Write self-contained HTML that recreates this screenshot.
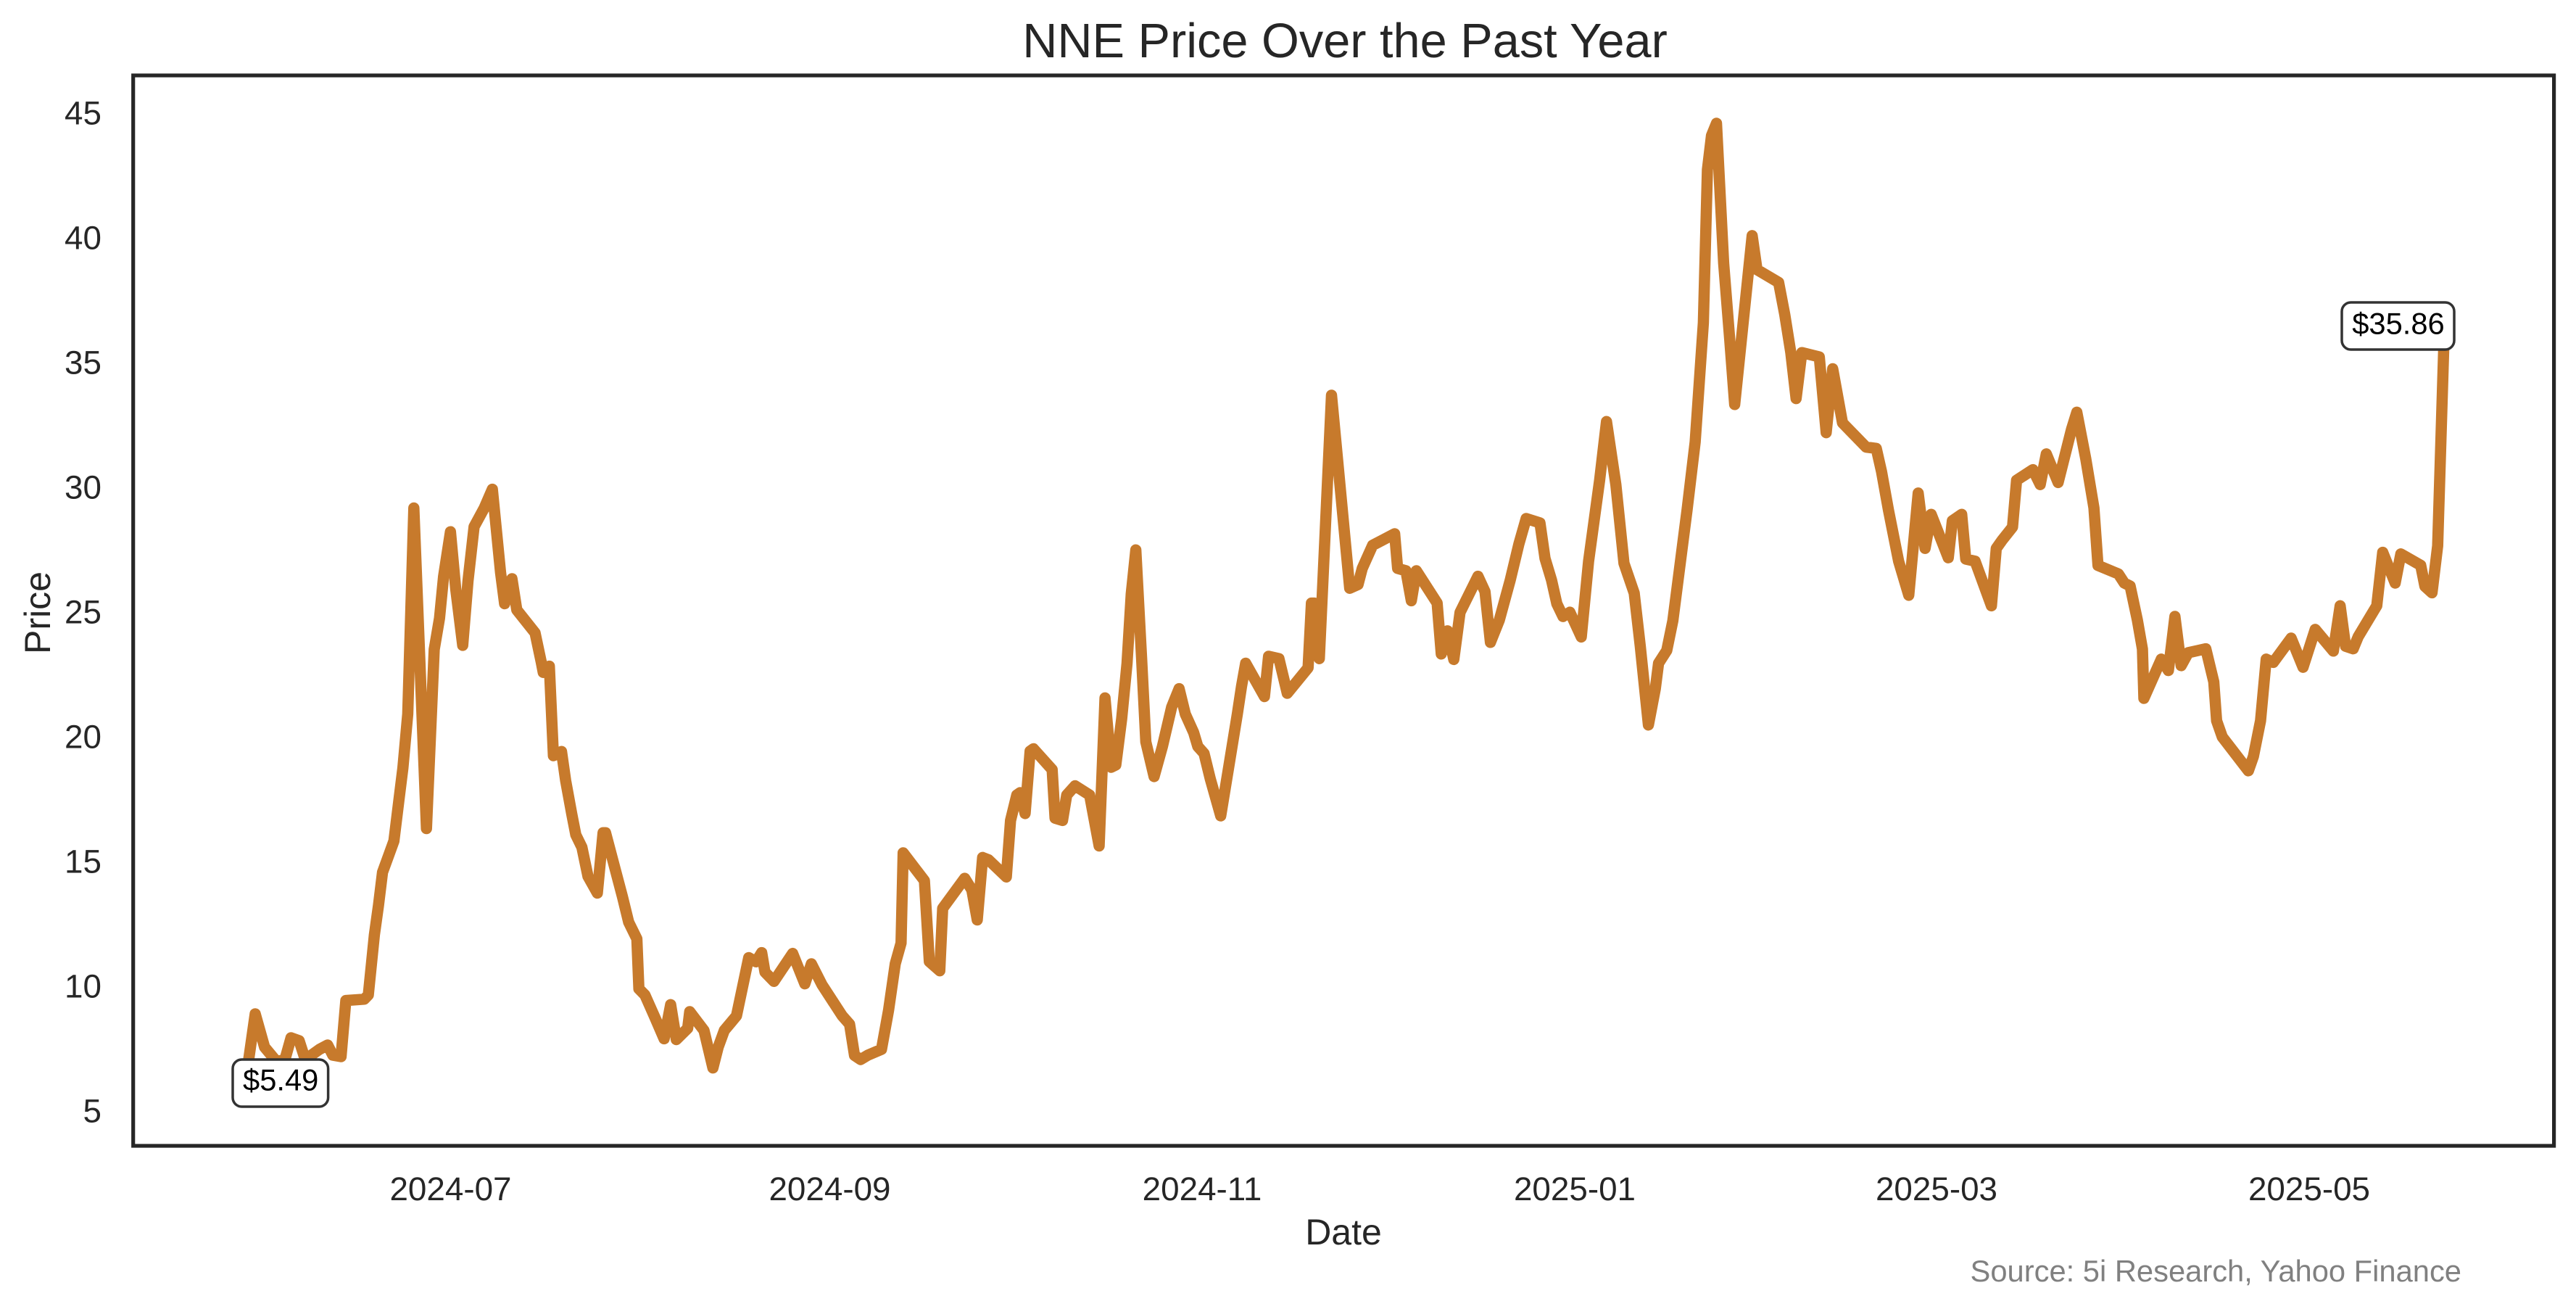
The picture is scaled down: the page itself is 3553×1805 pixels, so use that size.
<!DOCTYPE html>
<html>
<head>
<meta charset="utf-8">
<style>
  html, body { margin: 0; padding: 0; background: #ffffff; }
  svg { display: block; }
  text { font-family: "Liberation Sans", Arial, sans-serif; }
</style>
</head>
<body>
<svg width="3553" height="1805" viewBox="0 0 3553 1805" xmlns="http://www.w3.org/2000/svg">
  <rect x="0" y="0" width="3553" height="1805" fill="#ffffff"/>

  <!-- Title -->
  <text x="1855" y="79" font-size="66.7" fill="#262626" text-anchor="middle">NNE Price Over the Past Year</text>

  <!-- Price line -->
  <polyline fill="none" stroke="#C77A2C" stroke-width="15.5" stroke-linejoin="round" stroke-linecap="square"
    points="
335.5,1514 352,1398 364.9,1443.9 381.7,1464 393,1461 401.4,1431 412.6,1435 421,1461 440.6,1447 451.9,1441 459,1455 470.4,1457 477,1379.6 502.4,1377.8 508,1372
516.4,1288.9 522,1248.7 527.6,1202.8 536,1179.8 543.3,1159.7 550,1105 555.7,1059 562.4,984.6 570.8,700.5 588.2,1142.5 598.9,895.6 606.2,852.6 611.8,795 621.3,733.2
628.6,812.4 638.2,889.9 645.5,801 653.9,726.3 667.9,700.5 679.1,674.6 690.4,789.4 696,832.5 706.1,798 712.8,841 738,872.7 746.5,912.9 749.3,927.2 757.7,918.6
763.3,1042 774.5,1036.3 780.2,1076.5 788.6,1122.4 794.2,1151.1 802.6,1168.3 811,1208.5 823.9,1231.5 831.8,1148.2 835.2,1148.2 858.7,1237.2 867.1,1271.6 878.4,1294.6
881.2,1363.5 889.6,1372.1 903.6,1403.7 916,1432.4 925,1385.3 932.8,1433.5 948.5,1418 951.3,1395 971,1420.9 983.3,1472.6 990.6,1443.9 999,1420.9 1015.8,1400.8
1032.7,1320.5 1042.8,1326.2 1050.6,1313.6 1055.1,1340.5 1067.5,1353.2 1093.3,1314.7 1110.1,1356.6 1119.1,1329 1133.7,1357.8 1161.7,1400.8 1171.8,1412.3 1178.6,1455.3
1187,1461 1197,1455 1215.8,1447 1225.6,1392.9 1234.8,1329 1242.8,1300.4 1245.7,1176 1275,1214.3 1281.8,1325.9 1296.2,1338.6 1300.2,1252.6 1330.6,1211.1 1340.4,1227
1347.9,1268.5 1355.3,1182.4 1363.4,1185.6 1388,1209.2 1393.8,1131.4 1402.4,1096.3 1407,1093 1413.9,1121.8 1420.8,1035.7 1425.4,1032.5 1451.2,1061.2 1455.2,1128.2
1465.5,1131.4 1471.3,1096.3 1482.8,1083.5 1502.9,1096.3 1516,1166.5 1524.1,962.4 1532.7,1058 1539,1054.8 1547.1,991.1 1554.5,914.5 1560.3,818.9 1566.6,758.3
1574.6,908.2 1580.4,1023 1591.8,1070.8 1603.3,1029.3 1616,975.1 1626.3,949.6 1634.9,984.7 1646.4,1010.2 1652.1,1029.3 1660.7,1038.9 1669.3,1074 1683.7,1125
1695.2,1054.8 1706.6,984.7 1712.4,946.4 1718.1,914.5 1744,960.5 1749.7,905 1764,908.2 1775.5,956 1804.2,920.9 1808.8,831.6 1812.8,831.6 1819.7,908.2 1836.5,545
1861.6,811.2 1873.1,806.1 1878.9,783.8 1893.2,751.9 1923.6,736 1927.7,783.8 1939.1,787 1946.6,828.4 1953.5,787 1982.2,831.6 1987.9,901.8 1996.5,869.9 2005.2,909.4
2013.8,844.4 2038.5,794.6 2048.2,815.7 2055.7,885.8 2068,855 2083,800 2095,750 2105,715 2124,721 2131,770 2140,800 2147.3,832.5 2155.8,850.1 2165.3,844.2 2181,878.3
2191.1,773.8 2206.3,662.3 2215.8,581.3 2228.7,668.2 2239.9,776.7 2254,817.8 2262.4,891.2 2273.6,999.7 2283.1,949.9 2287.6,914.6 2298.9,897 2307.3,856 2326.9,703.4
2338.1,609.5 2349.4,445.2 2355,233.9 2360.6,187 2367.5,170 2377.4,363 2385.8,468.6 2392.6,557.8 2416.7,324.9 2423.4,371.8 2453.2,389.4 2461.6,433.4 2470,486.2
2477.3,549.6 2485.2,486.2 2509.3,492.1 2518.8,596.6 2527.8,508.5 2541.3,583.1 2573.8,616.5 2587.9,618.3 2595.2,650.6 2604.7,703.4 2618.7,773.8 2632.7,820.8
2645.7,679.9 2655.2,756.2 2663.6,709.2 2687.2,769.1 2692.8,718.1 2705.7,709.2 2711.3,770.9 2724.2,773.8 2746.7,835.4 2753.4,756.2 2761.8,744.4 2775.8,726.8
2781.4,662.3 2803.9,647.6 2814,668.2 2822.4,625.9 2838.7,665.3 2857.2,591.9 2864.5,568.4 2876.9,633 2888.1,700.4 2893.7,779.7 2921.8,791.4 2930,804
2938,808 2948,855 2955,895 2957,963 2981,908.9 2990.8,924.6 2999.8,850 3008.4,917.9 3018.2,900 3042.4,894.6 3053.4,940.2 3057.3,993.8 3065.1,1016.1 3101.1,1062.9
3108.1,1042.9 3117.9,993.8 3125.7,908.9 3135.5,913.4 3160.1,879.9 3176.5,920.1 3193.3,867.9 3218.3,897.8 3227.7,835.3 3235.2,891.1 3245.7,894.6 3252.7,877.7
3278.2,835.3 3286.4,761.6 3303.6,804 3311.4,763.8 3338.8,779.5 3344.6,808.5 3354.4,817.4 3362.2,752.7 3370.9,469.4"/>

  <!-- Annotation boxes -->
  <rect x="321" y="1461" width="131.6" height="65" rx="12.5" ry="12.5" fill="#ffffff" stroke="#333333" stroke-width="3.5"/>
  <text x="387.2" y="1503.3" font-size="41.7" fill="#000000" text-anchor="middle">$5.49</text>

  <rect x="3230" y="417" width="155" height="65" rx="12.5" ry="12.5" fill="#ffffff" stroke="#333333" stroke-width="3.5"/>
  <text x="3308" y="460.3" font-size="41.7" fill="#000000" text-anchor="middle">$35.86</text>

  <!-- Axes frame -->
  <rect x="183.7" y="104" width="3338.9" height="1476" fill="none" stroke="#262626" stroke-width="5.2"/>

  <!-- Y tick labels -->
  <g font-size="45.8" fill="#262626" text-anchor="end">
    <text x="140" y="171.4">45</text>
    <text x="140" y="343.4">40</text>
    <text x="140" y="515.4">35</text>
    <text x="140" y="687.4">30</text>
    <text x="140" y="859.4">25</text>
    <text x="140" y="1031.4">20</text>
    <text x="140" y="1203.4">15</text>
    <text x="140" y="1375.4">10</text>
    <text x="140" y="1547.4">5</text>
  </g>

  <!-- X tick labels -->
  <g font-size="45.8" fill="#262626" text-anchor="middle">
    <text x="621.5" y="1655">2024-07</text>
    <text x="1144.5" y="1655">2024-09</text>
    <text x="1658" y="1655">2024-11</text>
    <text x="2172" y="1655">2025-01</text>
    <text x="2671" y="1655">2025-03</text>
    <text x="3185" y="1655">2025-05</text>
  </g>

  <!-- Axis labels -->
  <text x="1853" y="1716" font-size="50" fill="#262626" text-anchor="middle">Date</text>
  <text transform="translate(69,845) rotate(-90)" font-size="50" fill="#262626" text-anchor="middle">Price</text>

  <!-- Source -->
  <text x="3395" y="1767" font-size="41.7" fill="#808080" text-anchor="end">Source: 5i Research, Yahoo Finance</text>
</svg>
</body>
</html>
